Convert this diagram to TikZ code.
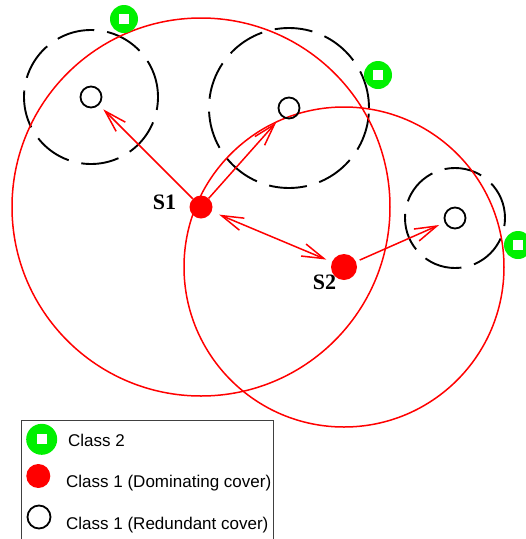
\documentclass[tikz,border=0pt]{standalone}
\usepackage{fontspec}
\setmainfont{Liberation Serif}
\setsansfont{Liberation Sans}
\usetikzlibrary{arrows.meta}
\definecolor{pured}{RGB}{255,0,0}
\definecolor{limegreen}{RGB}{0,240,0}
\begin{document}
\begin{tikzpicture}[x=1pt,y=-1pt,
  sensornode/.style={circle,fill=pured,inner sep=0pt,minimum size=#1},
  sensornode/.default=23pt,
  sparenode/.style={circle,draw=black,line width=1.8pt,inner sep=0pt,minimum size=#1},
  sparenode/.default=21pt,
  targetnode/.style={circle,fill=limegreen,inner sep=0pt,minimum size=#1,
    path picture={\fill[white]
      ([xshift=-5pt,yshift=-5pt]path picture bounding box.center) rectangle
      ([xshift=5pt,yshift=5pt]path picture bounding box.center);}},
  targetnode/.default=28pt,
  commrange/.style={draw=pured,line width=1.5pt},
  senserange/.style={draw=black,line width=1.9pt,dash pattern=on 38pt off 13pt},
  linkarrow/.style={draw=pured,line width=1.5pt,-{Straight Barb[length=22pt,width=13pt]}},
  duplexarrow/.style={draw=pured,line width=1.5pt,
    {Straight Barb[length=22pt,width=13pt]}-{Straight Barb[length=22pt,width=13pt]}},
  nodetag/.style={font=\bfseries\fontsize{22}{22}\selectfont,inner sep=0pt,anchor=base west},
  legtext/.style={font=\sffamily\fontsize{17}{17}\selectfont,inner sep=0pt,anchor=base west}
]
\useasboundingbox (0,0) rectangle (526,539);

% sensor nodes and redundant nodes
\coordinate (p1) at (201,207);
\coordinate (p2) at (344,267);
\coordinate (pa) at (91,97);
\coordinate (pb) at (289,108);
\coordinate (pc) at (455,218);

% sensing ranges of the redundant nodes
\path[senserange] (pa) circle[radius=67pt];
\path[senserange] (pb) circle[radius=80pt];
\path[senserange] (pc) circle[radius=50pt];

% communication ranges of the dominating nodes
\path[commrange] (p1) circle[radius=189pt];
\path[commrange] (p2) circle[radius=160pt];

\node[sparenode] (a) at (pa) {};
\node[sparenode] (b) at (pb) {};
\node[sparenode] (c) at (pc) {};
\node[sensornode] (s1) at (p1) {};
\node[sensornode=26pt] (s2) at (p2) {};

% links
\draw[linkarrow,shorten >=6pt] (s1) -- (a);
\draw[linkarrow,shorten >=8pt] (s1) -- (b);
\draw[duplexarrow,shorten <=8pt,shorten >=6pt] (s1) -- (s2);
\draw[linkarrow,shorten <=4pt,shorten >=6pt] (s2) -- (c);

\node[nodetag] (t1) at (152.7,209.3) {S1};
\node[nodetag] (t2) at (312.7,289.3) {S2};

% class 2 points
\node[targetnode] (g1) at (124,19) {};
\node[targetnode] (g2) at (378,75) {};
\node[targetnode] (g3) at (518,245) {};

% legend
\draw[draw=black!75,line width=1pt] (21,420) rectangle (273,560);
\node[targetnode=31pt] (k1) at (41.7,439.3) {};
\node[sensornode=24pt] (k2) at (38.3,476) {};
\node[sparenode=23pt] (k3) at (39,517) {};
\node[legtext] (k1t) at (68,446.3) {Class 2};
\node[legtext] (k2t) at (66,487.3) {Class 1 (Dominating cover)};
\node[legtext] (k3t) at (66,529.3) {Class 1 (Redundant cover)};
\end{tikzpicture}
\end{document}
